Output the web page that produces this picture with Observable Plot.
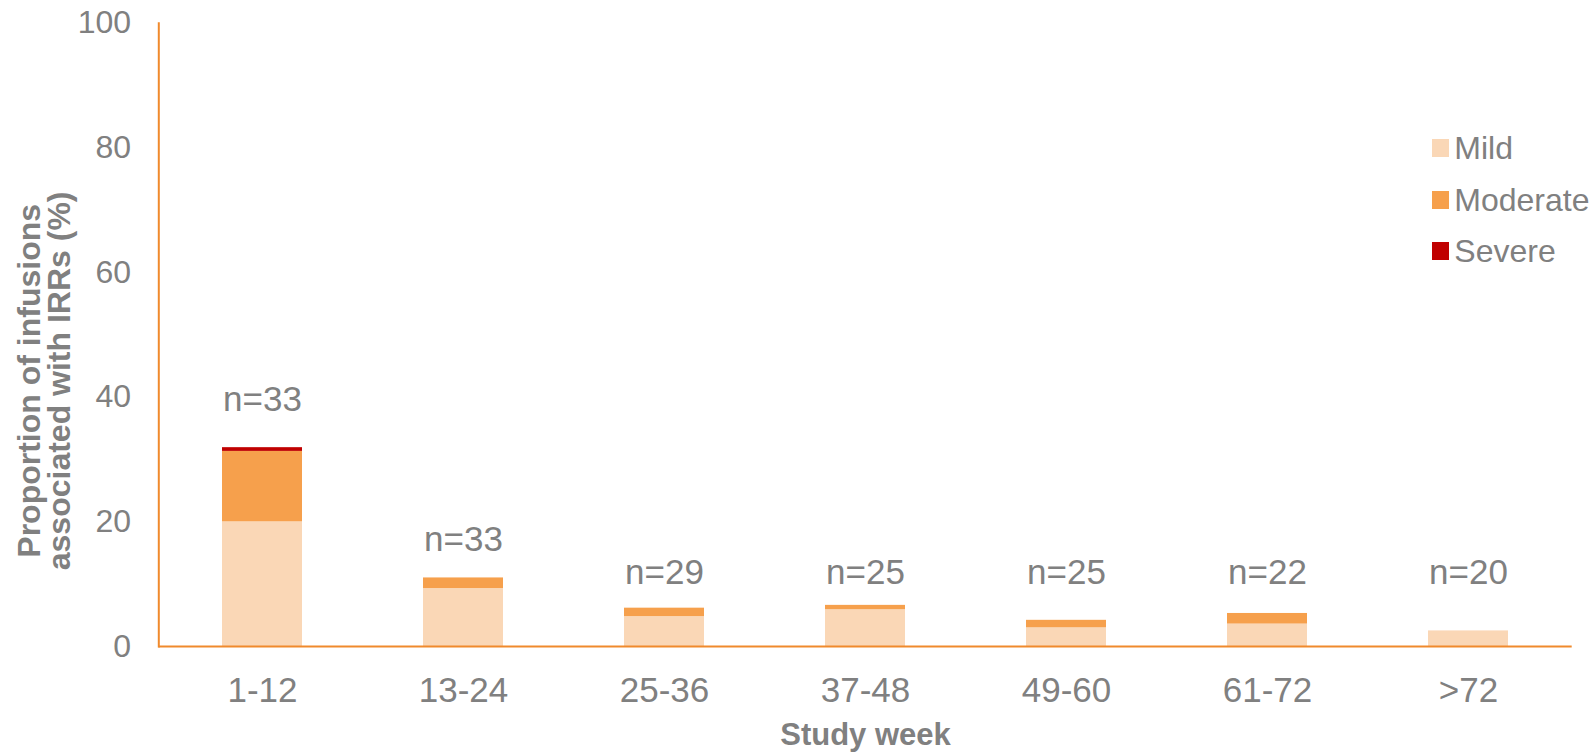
<!DOCTYPE html>
<html>
<head>
<meta charset="utf-8">
<script src="https://cdn.jsdelivr.net/npm/d3@7"></script>
<script src="https://cdn.jsdelivr.net/npm/@observablehq/plot@0.6"></script>
<style>
  html, body { margin: 0; padding: 0; background: #fff; }
  #wrap { position: relative; width: 1595px; height: 756px; font-family: "Liberation Sans", Arial, sans-serif; }
  #legend { position: absolute; left: 1431.7px; top: 122.5px; color: #808080; font-size: 32px; }
  .row { display: flex; align-items: center; height: 51.5px; }
  .sw { width: 17.6px; height: 17.6px; margin-right: 5px; flex: none; }
  .lab { line-height: 1; }
</style>
</head>
<body>
<div id="wrap"><div id="chart"></div><div id="legend"></div></div>
<script>
const weeks = ["1-12", "13-24", "25-36", "37-48", "49-60", "61-72", ">72"];
const severities = ["Mild", "Moderate", "Severe"];
const mild = [20.0, 9.3, 4.8, 5.9, 3.0, 3.6, 2.5];
const moderate = [11.3, 1.7, 1.35, 0.7, 1.2, 1.7, 0];
const severe = [0.6, 0, 0, 0, 0, 0, 0];
const nCounts = [33, 33, 29, 25, 25, 22, 20];
const nLabelY = [39.5, 17.1, 11.9, 11.9, 11.9, 11.9, 11.9];
const yTicks = [0, 20, 40, 60, 80, 100];
const colors = ["#FAD7B6", "#F6A04C", "#C00000"];
const axisColor = "#F08A2C";
const textColor = "#808080";

const series = [mild, moderate, severe];
const rows = weeks.flatMap((w, i) => severities.map((s, j) => ({week: w, severity: s, value: series[j][i]})));
const labels = weeks.map((w, i) => ({week: w, y: nLabelY[i], text: "n=" + nCounts[i]}));

const chart = Plot.plot({
  width: 1595,
  height: 756,
  marginLeft: 158.3,
  marginRight: 23.3,
  marginTop: 22.7,
  marginBottom: 110,
  style: {fontFamily: '"Liberation Sans", Arial, sans-serif', color: textColor, background: "white"},
  x: {domain: weeks, paddingInner: 0.6, paddingOuter: 0.3, label: null},
  y: {domain: [0, 100], label: null},
  color: {domain: severities, range: colors},
  marks: [
    Plot.barY(rows, {x: "week", y: "value", fill: "severity"}),
    Plot.axisY({ticks: yTicks, tickSize: 0, tickPadding: 27.7, fontSize: 32, label: null}),
    Plot.axisX({tickSize: 0, tickPadding: 31, fontSize: 35, label: null}),
    Plot.ruleY([0], {stroke: axisColor, strokeWidth: 2}),
    Plot.frame({anchor: "left", stroke: axisColor, strokeWidth: 2}),
    Plot.text(labels, {x: "week", y: "y", text: "text", fontSize: 35, fill: textColor}),
    Plot.text(["Proportion of infusions\nassociated with IRRs (%)"], {text: d => d, frameAnchor: "left", textAnchor: "middle", lineAnchor: "middle", rotate: -90, dx: -113, dy: 46, fontSize: 32, fontWeight: "bold", lineHeight: 0.94, fill: textColor}),
    Plot.text(["Study week"], {text: d => d, frameAnchor: "bottom", lineAnchor: "middle", dy: 88.4, fontSize: 31, fontWeight: "bold", fill: textColor})
  ]
});
document.getElementById("chart").appendChild(chart);

const legend = document.getElementById("legend");
severities.forEach((s, i) => {
  const row = document.createElement("div");
  row.className = "row";
  const sw = document.createElement("div");
  sw.className = "sw";
  sw.style.background = colors[i];
  const lab = document.createElement("span");
  lab.className = "lab";
  lab.textContent = s;
  row.appendChild(sw);
  row.appendChild(lab);
  legend.appendChild(row);
});
</script>
</body>
</html>
